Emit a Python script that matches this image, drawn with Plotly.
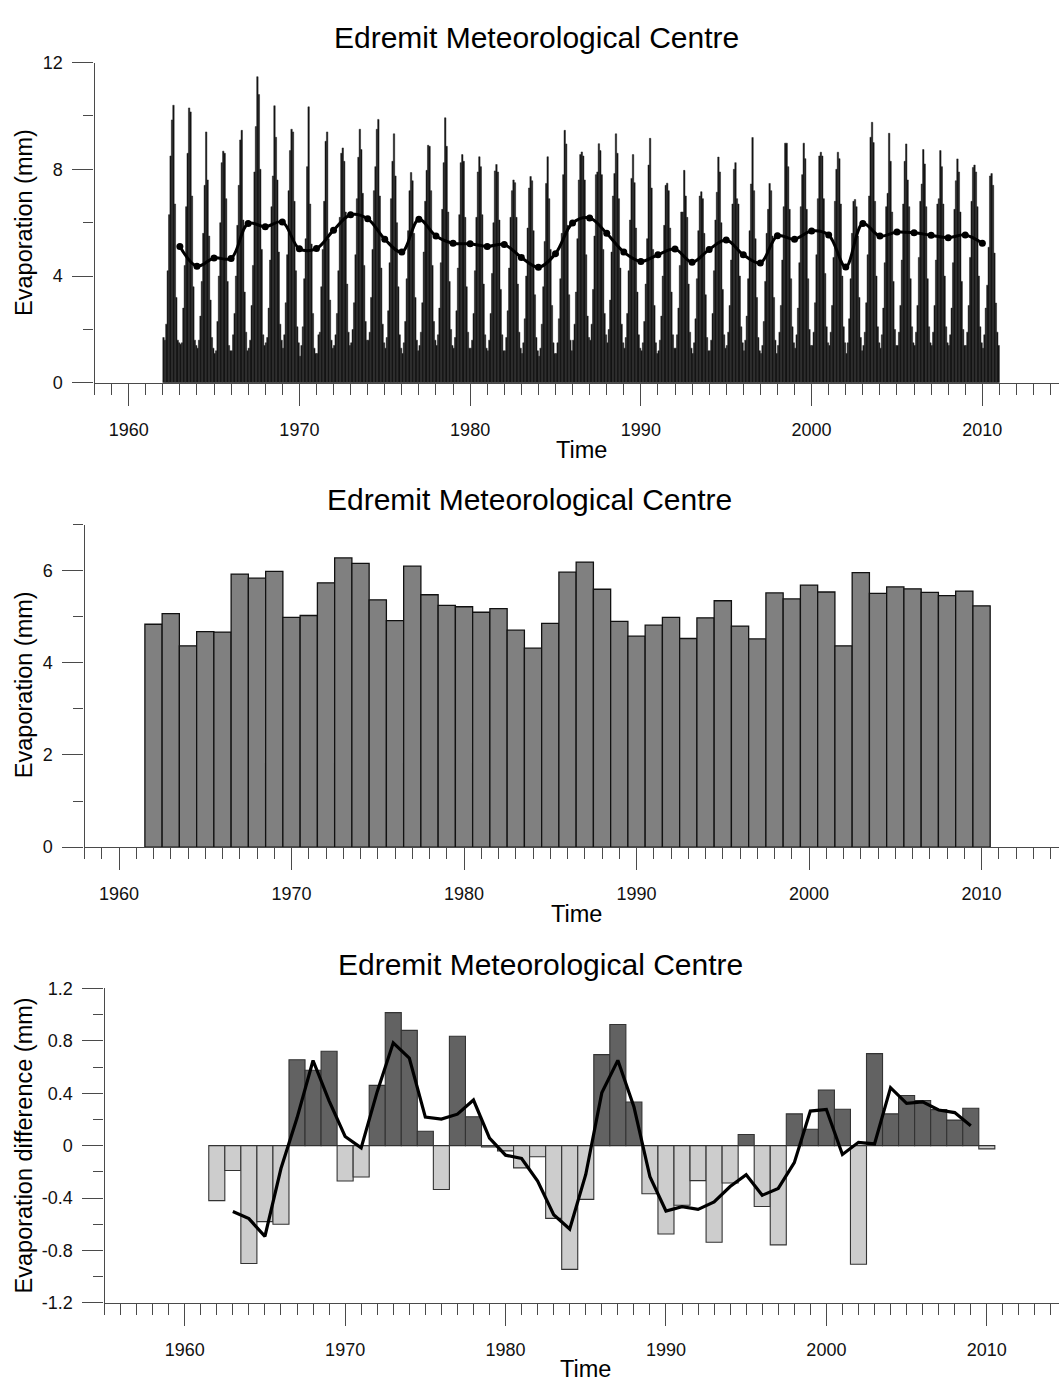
import plotly.graph_objects as go

# ---------------- data ----------------
years = list(range(1962, 2011))

# Monthly evaporation (mm), Jan..Dec, one row per year 1962-2010
monthly_evap = [
    [1.70, 1.60, 2.20, 4.20, 6.30, 8.50, 9.85, 10.40, 6.70, 3.20, 1.60, 1.50],
    [1.45, 1.50, 2.80, 4.40, 6.60, 8.60, 10.30, 10.15, 7.00, 3.60, 1.60, 1.40],
    [1.30, 1.60, 2.50, 3.80, 5.60, 7.40, 9.40, 7.60, 5.50, 3.10, 1.70, 1.30],
    [1.10, 1.20, 2.30, 4.00, 6.00, 8.25, 8.68, 8.60, 6.90, 3.80, 1.40, 1.20],
    [1.20, 1.80, 2.60, 4.00, 5.90, 7.40, 9.10, 9.46, 6.10, 3.40, 1.90, 1.20],
    [1.30, 1.60, 2.90, 4.40, 7.90, 9.60, 11.47, 10.80, 8.00, 5.00, 1.80, 1.40],
    [1.50, 1.70, 2.80, 4.60, 6.60, 7.75, 10.38, 9.20, 7.60, 4.90, 2.20, 1.60],
    [1.30, 1.80, 3.00, 4.80, 7.20, 8.70, 9.50, 9.40, 6.80, 4.20, 2.10, 1.50],
    [1.00, 1.40, 2.10, 3.90, 5.40, 8.10, 10.34, 6.70, 5.20, 2.60, 1.30, 1.10],
    [1.10, 1.80, 1.90, 3.60, 5.00, 6.80, 9.05, 9.40, 5.40, 3.10, 1.60, 1.30],
    [1.40, 1.80, 2.60, 4.20, 6.20, 8.60, 8.80, 8.30, 6.40, 3.70, 1.90, 1.40],
    [1.50, 2.00, 3.00, 4.80, 6.90, 8.45, 9.50, 8.74, 7.10, 4.40, 2.30, 1.60],
    [1.60, 1.90, 3.20, 5.00, 7.20, 8.10, 9.50, 9.87, 7.00, 4.30, 2.20, 1.50],
    [1.30, 1.70, 2.70, 4.50, 6.90, 8.30, 9.33, 7.75, 6.00, 3.60, 1.80, 1.30],
    [1.10, 1.50, 2.30, 3.90, 5.70, 7.20, 7.88, 7.57, 5.60, 3.20, 1.60, 1.20],
    [1.40, 1.90, 3.00, 4.90, 6.80, 7.96, 8.90, 8.86, 7.20, 4.40, 2.30, 1.60],
    [1.40, 1.80, 2.80, 4.50, 6.50, 8.25, 9.93, 8.86, 6.40, 3.80, 2.00, 1.40],
    [1.30, 1.70, 2.70, 4.30, 6.30, 8.25, 8.55, 8.30, 6.20, 3.60, 1.90, 1.30],
    [1.30, 1.60, 2.60, 4.20, 6.20, 7.90, 8.47, 8.10, 6.30, 3.70, 1.80, 1.30],
    [1.20, 1.60, 2.60, 4.10, 6.00, 7.94, 8.18, 7.90, 6.10, 3.50, 1.80, 1.20],
    [1.20, 1.70, 2.70, 4.30, 6.20, 7.20, 7.60, 7.50, 6.20, 3.70, 1.90, 1.30],
    [1.10, 1.50, 2.40, 4.00, 5.80, 7.30, 7.73, 7.57, 5.70, 3.30, 1.70, 1.20],
    [1.00, 1.30, 2.20, 3.60, 5.30, 7.47, 8.47, 6.90, 5.00, 2.90, 1.50, 1.10],
    [1.10, 1.50, 2.40, 3.90, 5.60, 7.80, 9.46, 8.95, 5.90, 3.30, 1.60, 1.20],
    [1.60, 2.20, 3.40, 5.40, 7.60, 8.55, 8.65, 8.50, 7.60, 4.80, 2.50, 1.70],
    [1.60, 2.20, 3.50, 5.50, 7.80, 7.90, 8.96, 8.70, 7.80, 5.00, 2.60, 1.80],
    [1.50, 2.00, 3.10, 4.90, 7.00, 7.84, 9.33, 8.60, 6.90, 4.30, 2.20, 1.50],
    [1.30, 1.70, 2.60, 4.20, 6.10, 7.66, 8.55, 7.50, 5.80, 3.40, 1.80, 1.30],
    [1.20, 1.50, 2.30, 3.70, 5.40, 8.16, 9.16, 7.30, 5.00, 2.90, 1.50, 1.10],
    [1.20, 1.60, 2.50, 4.00, 5.90, 7.40, 7.48, 7.20, 5.80, 3.40, 1.80, 1.30],
    [1.30, 1.80, 2.80, 4.40, 6.40, 6.40, 7.96, 7.00, 6.20, 3.70, 1.90, 1.30],
    [1.10, 1.50, 2.40, 3.90, 5.70, 7.00, 7.16, 6.90, 5.60, 3.30, 1.70, 1.20],
    [1.20, 1.60, 2.60, 4.20, 6.10, 7.14, 8.46, 7.90, 6.00, 3.50, 1.80, 1.30],
    [1.40, 1.90, 2.90, 4.60, 6.70, 8.00, 8.25, 6.90, 6.70, 4.00, 2.10, 1.50],
    [1.20, 1.60, 2.50, 3.90, 5.70, 7.45, 9.19, 7.20, 5.40, 3.20, 1.70, 1.20],
    [1.10, 1.40, 2.30, 3.80, 5.60, 6.50, 7.47, 7.20, 5.50, 3.20, 1.60, 1.10],
    [1.40, 1.90, 2.90, 4.60, 6.60, 8.98, 8.98, 8.10, 6.50, 3.90, 2.10, 1.50],
    [1.30, 1.80, 2.80, 4.50, 6.60, 7.80, 8.98, 8.40, 6.50, 3.90, 2.00, 1.40],
    [1.40, 1.90, 3.00, 4.80, 6.90, 8.50, 8.64, 8.50, 6.90, 4.10, 2.10, 1.50],
    [1.40, 1.90, 2.90, 4.70, 6.80, 8.00, 8.64, 8.40, 6.70, 4.00, 2.10, 1.50],
    [1.10, 1.50, 2.40, 3.90, 5.60, 6.80, 6.87, 6.60, 5.50, 3.20, 1.70, 1.20],
    [1.40, 1.90, 3.00, 4.80, 7.00, 9.20, 9.76, 9.00, 6.80, 4.00, 2.10, 1.50],
    [1.30, 1.80, 2.80, 4.50, 6.60, 7.10, 9.35, 8.30, 6.40, 3.80, 2.00, 1.40],
    [1.40, 1.90, 2.90, 4.60, 6.70, 8.30, 8.95, 7.60, 6.60, 3.90, 2.10, 1.50],
    [1.40, 1.90, 2.90, 4.70, 6.80, 7.45, 8.74, 8.20, 6.60, 3.90, 2.10, 1.50],
    [1.40, 1.90, 2.90, 4.60, 6.70, 6.90, 8.70, 8.10, 6.70, 4.00, 2.10, 1.50],
    [1.40, 1.80, 2.80, 4.50, 6.50, 7.57, 8.39, 7.90, 6.40, 3.80, 2.00, 1.40],
    [1.40, 1.90, 2.90, 4.70, 6.80, 8.07, 8.16, 7.90, 6.60, 4.00, 2.10, 1.50],
    [1.30, 1.80, 2.80, 3.66, 5.08, 7.75, 7.84, 7.40, 4.86, 2.99, 1.90, 1.40],
]

# Annual mean evaporation (mm), 1962-2010
annual_evap = [4.84, 5.07, 4.37, 4.68, 4.67, 5.93, 5.84, 5.99, 4.99, 5.03,
               5.74, 6.28, 6.16, 5.37, 4.92, 6.10, 5.48, 5.25, 5.22, 5.10,
               5.18, 4.71, 4.32, 4.86, 5.97, 6.19, 5.60, 4.90, 4.58, 4.82,
               4.99, 4.53, 4.98, 5.35, 4.80, 4.52, 5.52, 5.39, 5.69, 5.54,
               4.37, 5.96, 5.51, 5.65, 5.61, 5.53, 5.46, 5.56, 5.24]

# Annual-mean curve on the monthly chart, 1963-2010
curve_years = list(range(1963, 2011))
curve_evap = [5.11, 4.37, 4.68, 4.66, 5.97, 5.85, 6.03, 5.02, 5.03, 5.72,
              6.30, 6.15, 5.38, 4.90, 6.13, 5.50, 5.23, 5.21, 5.11, 5.18,
              4.70, 4.33, 4.84, 5.99, 6.18, 5.60, 4.90, 4.55, 4.80, 5.01,
              4.52, 5.00, 5.35, 4.80, 4.49, 5.51, 5.38, 5.69, 5.54, 4.34,
              5.97, 5.50, 5.65, 5.62, 5.53, 5.44, 5.54, 5.23]

# Departure of annual evaporation from the long-term mean (mm), 1962-2010
diff_evap = [-0.42, -0.19, -0.90, -0.58, -0.60, 0.655, 0.575, 0.72, -0.27, -0.24,
             0.46, 1.015, 0.88, 0.11, -0.335, 0.835, 0.22, -0.01, -0.04, -0.17,
             -0.085, -0.555, -0.945, -0.41, 0.695, 0.925, 0.3325, -0.3675, -0.675, -0.455,
             -0.2675, -0.7375, -0.285, 0.085, -0.465, -0.7575, 0.2425, 0.125, 0.425, 0.2775,
             -0.905, 0.7025, 0.2425, 0.3825, 0.345, 0.275, 0.195, 0.285, -0.025]

# 3-year running mean of the departures, 1963-2009
ma_years = list(range(1963, 2010))
ma_diff = [-0.503, -0.557, -0.693, -0.175, 0.21, 0.65, 0.342, 0.07, -0.017, 0.412,
           0.785, 0.668, 0.218, 0.203, 0.24, 0.348, 0.057, -0.073, -0.098, -0.27,
           -0.528, -0.637, -0.22, 0.403, 0.651, 0.297, -0.237, -0.499, -0.466, -0.487,
           -0.43, -0.3125, -0.222, -0.379, -0.327, -0.13, 0.264, 0.276, -0.0675, 0.025,
           0.013, 0.4425, 0.323, 0.334, 0.272, 0.252, 0.152]

x_tick_vals = [1960, 1970, 1980, 1990, 2000, 2010]
x_tick_text = ["1960", "1970", "1980", "1990", "2000", "2010"]
y1_tick_vals = [0, 4, 8, 12]
y1_tick_text = ["0", "4", "8", "12"]
y2_tick_vals = [0, 2, 4, 6]
y2_tick_text = ["0", "2", "4", "6"]
y3_tick_vals = [-1.2, -0.8, -0.4, 0, 0.4, 0.8, 1.2]
y3_tick_text = ["-1.2", "-0.8", "-0.4", "0", "0.4", "0.8", "1.2"]

title_text = "Edremit Meteorological Centre"

# ---------------- figure ----------------
W, H = 1059, 1390
FONT = "Liberation Sans, Arial, sans-serif"
AX = "#4a4a4a"


def fx(px):
    return px / W


def fy(py):
    return 1 - py / H


fig = go.Figure()

# Panel 1: monthly bars
m_x, m_y = [], []
for yr, row in zip(years, monthly_evap):
    for m, v in enumerate(row):
        m_x.append(yr + (m + 0.5) / 12)
        m_y.append(v)
fig.add_trace(go.Bar(x=m_x, y=m_y, width=1 / 12, xaxis="x", yaxis="y",
                     marker=dict(color="#0d0d0d", line=dict(color="#2a2a2a", width=0.5))))
fig.add_trace(go.Scatter(x=curve_years, y=curve_evap, xaxis="x", yaxis="y",
                         mode="lines+markers", line=dict(color="black", width=3, shape="spline", smoothing=1),
                         marker=dict(color="black", size=7)))

# Panel 2: annual means
fig.add_trace(go.Bar(x=years, y=annual_evap, width=1, xaxis="x2", yaxis="y2",
                     marker=dict(color="#808080", line=dict(color="#111111", width=1.3))))

# Panel 3: departures
bar_cols = ["#626262" if v >= 0 else "#cdcdcd" for v in diff_evap]
fig.add_trace(go.Bar(x=years, y=diff_evap, width=1, xaxis="x3", yaxis="y3",
                     marker=dict(color=bar_cols, line=dict(color="#333333", width=1.1))))
fig.add_trace(go.Scatter(x=ma_years, y=ma_diff, xaxis="x3", yaxis="y3", mode="lines",
                         line=dict(color="black", width=3.2)))


def xaxis_cfg(x0px, rng, anchor):
    return dict(domain=[fx(x0px), 1.0], range=rng, anchor=anchor,
                showline=True, linecolor=AX, linewidth=1.3, showgrid=False, zeroline=False,
                ticks="outside", ticklen=22, tickwidth=1.3, tickcolor=AX,
                tickvals=x_tick_vals, ticktext=x_tick_text, ticklabelstandoff=8,
                tickfont=dict(family=FONT, size=18, color="#111"),
                minor=dict(dtick=1, tick0=1960, ticklen=11, tickwidth=1.1, tickcolor=AX,
                           ticks="outside", showgrid=False))


def yaxis_cfg(ydom, rng, tv, tt, minor_dt, anchor):
    return dict(domain=ydom, range=rng, anchor=anchor,
                showline=True, linecolor=AX, linewidth=1.3, showgrid=False, zeroline=False,
                ticks="outside", ticklen=21, tickwidth=1.3, tickcolor=AX,
                tickvals=tv, ticktext=tt, ticklabelstandoff=6,
                tickfont=dict(family=FONT, size=18, color="#111"),
                minor=dict(dtick=minor_dt, tick0=0, ticklen=10, tickwidth=1.1, tickcolor=AX,
                           ticks="outside", showgrid=False))


# pixel geometry of each panel
p1 = dict(x0=94.5, ytop=53.3, ybot=378.3)
p2 = dict(x0=84.5, ytop=522.3, ybot=849.3)
p3 = dict(x0=104.5, ytop=992.7, ybot=1311.7)

fig.update_layout(
    width=W, height=H, margin=dict(l=0, r=0, t=0, b=0),
    paper_bgcolor="white", plot_bgcolor="white", showlegend=False,
    xaxis=xaxis_cfg(p1["x0"], [1958, 2014.49], "y"),
    yaxis=yaxis_cfg([fy(p1["ybot"]), fy(p1["ytop"])], [0, 12], y1_tick_vals, y1_tick_text, 2, "x"),
    xaxis2=xaxis_cfg(p2["x0"], [1958, 2014.49], "y2"),
    yaxis2=yaxis_cfg([fy(p2["ybot"]), fy(p2["ytop"])], [0, 7], y2_tick_vals, y2_tick_text, 1, "x2"),
    xaxis3=xaxis_cfg(p3["x0"], [1955, 2014.5], "y3"),
    yaxis3=yaxis_cfg([fy(p3["ybot"]), fy(p3["ytop"])], [-1.2, 1.2], y3_tick_vals, y3_tick_text, 0.2, "x3"),
)

annots = []
# panel titles
for cx, cy in [(536, 28), (529, 497), (540, 968)]:
    annots.append(dict(text=title_text, x=fx(cx), y=fy(cy), xref="paper", yref="paper",
                       xanchor="center", yanchor="middle", showarrow=False,
                       font=dict(family=FONT, size=30, color="black")))
# x-axis titles
for cx, cy in [(581, 446), (576, 917), (585, 1379)]:
    annots.append(dict(text="Time", x=fx(cx), y=fy(cy), xref="paper", yref="paper",
                       xanchor="center", yanchor="middle", showarrow=False,
                       font=dict(family=FONT, size=23.5, color="black")))
# y-axis titles
for txt, cy in [("Evaporation (mm)", 216), ("Evaporation (mm)", 685),
                ("Evaporation difference (mm)", 1152)]:
    annots.append(dict(text=txt, x=fx(24), y=fy(cy), xref="paper", yref="paper",
                       xanchor="center", yanchor="middle", showarrow=False, textangle=-90,
                       font=dict(family=FONT, size=23.5, color="black")))
fig.update_layout(annotations=annots)

fig.write_html("out.html")
